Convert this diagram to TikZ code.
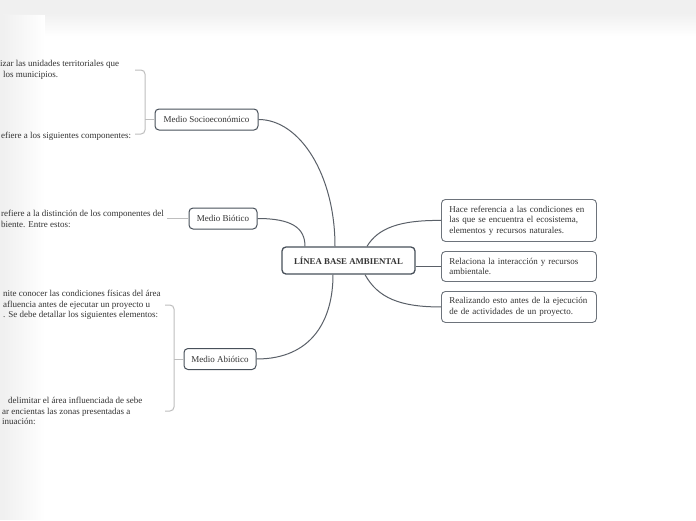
\documentclass[tikz,border=0pt]{standalone}
\usepackage{fontspec}
\setmainfont{Liberation Serif}
\hyphenpenalty=10000
\exhyphenpenalty=10000
\definecolor{mapink}{RGB}{51,51,51}
\definecolor{mapframe}{RGB}{72,80,90}
\definecolor{mapbranch}{RGB}{90,96,104}
\definecolor{mapbracket}{RGB}{190,190,190}
\definecolor{mappage}{RGB}{240,240,240}

\begin{document}
\begin{tikzpicture}[x=1pt,y=-1pt,font=\fontsize{9}{10.6}\selectfont,
    mainidea/.style={draw=mapframe,line width=1.3pt,rounded corners=4pt,
      fill=white,text=mapink,font=\fontsize{8.8}{10}\selectfont\bfseries,
      minimum width=133,minimum height=27,inner sep=2pt},
    topic/.style={draw=mapframe,line width=1pt,rounded corners=4pt,
      fill=white,text=mapink,minimum height=21,inner sep=2pt},
    detail/.style={draw=mapframe!80,line width=.9pt,rounded corners=4pt,
      fill=white,text=mapink,text width=139,align=left,inner xsep=8pt,
      inner ysep=4pt,anchor=north west},
    fragment/.style={text=mapink,align=left,anchor=north west,inner sep=0pt},
    branch/.style={draw=mapbranch,line width=1pt},
    bracket/.style={draw=mapbracket,line width=1pt,rounded corners=4pt}]
    \useasboundingbox (0,0) rectangle (696,520);
    \clip (0,0) rectangle (696,520);
    % page
    \fill[white] (0,0) rectangle (696,520);
    \fill[mappage] (0,0) rectangle (696,13);
    \foreach \i [evaluate=\i as \pct using {int(100-\i*100/23)}] in {0,...,22}
      \fill[mappage!\pct!white] (0,13+\i) rectangle (696,14+\i);
    \foreach \i [evaluate=\i as \pct using {int(100-\i*100/42)}] in {0,...,41}
      \fill[mappage!\pct!white] (3+\i,15) rectangle (4+\i,520);
    \fill[mappage] (0,13) rectangle (3,520);

    % central idea and branches
    \node[mainidea] (base) at (348.5,260.5) {LÍNEA BASE AMBIENTAL};
    \node[topic,minimum width=103] (socio) at (206.5,119.5) {Medio Socioeconómico};
    \node[topic,minimum width=68] (bio) at (223,218.5) {Medio Biótico};
    \node[topic,minimum width=72] (abio) at (220,359) {Medio Abiótico};
    \node[detail,minimum height=42] (cond) at (441,199)
      {Hace referencia a las condiciones en las que se encuentra el ecosistema, elementos y recursos naturales.};
    \node[detail,minimum height=30] (inter) at (441,251)
      {Relaciona la interacción y recursos ambientale.};
    \node[detail,minimum height=31] (antes) at (441,291)
      {Realizando esto antes de la ejecución de de actividades de un proyecto.};

    \draw[branch] (socio.east) .. controls (300,119.5) and ([xshift=-13.5pt]base.north |- 0,175)
      .. ([xshift=-13.5pt]base.north);
    \draw[branch] (bio.east) .. controls (292,218.5) and ([xshift=-43.5pt]base.north |- 0,228)
      .. ([xshift=-43.5pt]base.north);
    \draw[branch] (abio.east) .. controls (312,359) and ([xshift=-15.5pt]base.south |- 0,320)
      .. ([xshift=-15.5pt]base.south);
    \draw[branch] ([xshift=18.5pt]base.north) .. controls (378,228) and (400,220) .. (cond.west);
    \draw[branch] (base.east |- inter.west) -- (inter.west);
    \draw[branch] ([xshift=16.5pt]base.south) .. controls (378,298) and (400,307) .. (antes.west);

    % notes cut off at the left edge
    \node[fragment] (unid) at (0,60.5) {izar las unidades territoriales que\\
      \hspace*{3pt}los municipios.};
    \node[fragment] (comp) at (1,132) {efiere a los siguientes componentes:};
    \node[fragment] (dist) at (1,210) {refiere a la distinción de los componentes del\\
      biente. Entre estos:};
    \node[fragment] (fisi) at (3,290) {nite conocer las condiciones físicas del área\\
      afluencia antes de ejecutar un proyecto u\\
      . Se debe detallar los siguientes elementos:};
    \node[fragment] (zona) at (2,397) {\hspace*{6pt}delimitar el área influenciada de sebe\\
      ar encientas las zonas presentadas a\\
      inuación:};

    % brackets
    \coordinate (socioTop) at (135,70);
    \coordinate (socioBot) at (135,134);
    \coordinate (socioMid) at (145,119.5);
    \draw[bracket] (socioTop) -- (145,70) -- (145,134) -- (socioBot);
    \draw[bracket] (socioMid) -- (socio.west);
    \coordinate (bioEnd) at (167,218.5);
    \draw[bracket] (bioEnd) -- (bio.west);
    \coordinate (abioTop) at (165,305);
    \coordinate (abioBot) at (165,411);
    \coordinate (abioMid) at (174,359);
    \draw[bracket] (abioTop) -- (174,305) -- (174,411) -- (abioBot);
    \draw[bracket] (abioMid) -- (abio.west);
  \end{tikzpicture}
\end{document}
